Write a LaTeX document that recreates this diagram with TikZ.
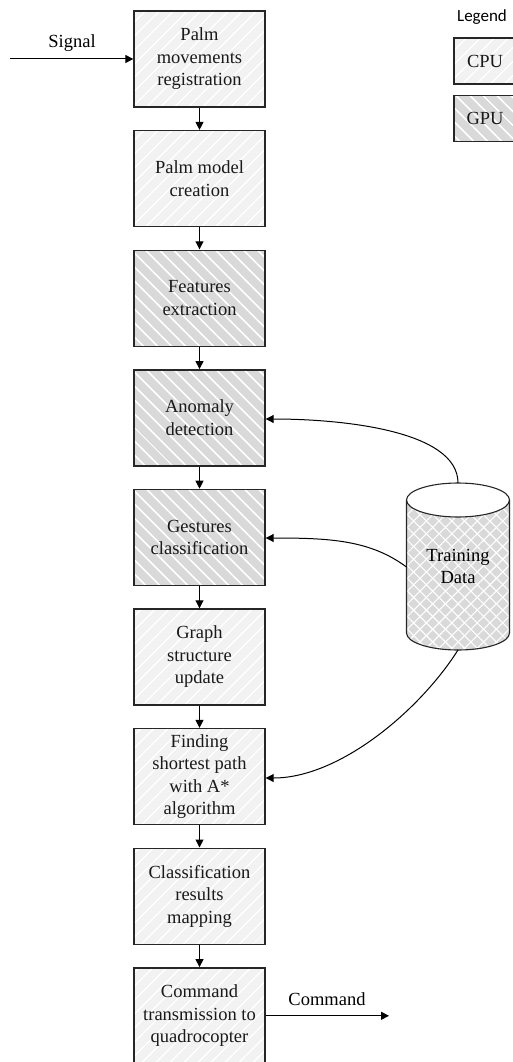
\documentclass[tikz,border=0pt]{standalone}
\usepackage{fontspec}
\setmainfont{Liberation Serif}
\newfontfamily\legendfont{Carlito}
\usetikzlibrary{arrows.meta,patterns.meta}
\definecolor{cpufill}{HTML}{F2F2F2}
\definecolor{gpufill}{HTML}{D9D9D9}
\definecolor{bordercol}{HTML}{262626}
\begin{document}
\begin{tikzpicture}[x=1pt,y=-1pt,
  box/.style={draw=bordercol, line width=1.4pt, minimum width=131pt, minimum height=96pt,
    inner sep=0pt, align=center, font=\fontsize{18.5}{22.5}\selectfont, text=black!90},
  cpubox/.style={box, preaction={fill=cpufill},
    pattern={Lines[angle=45,distance=10.5pt,line width=1.3pt]}, pattern color=white},
  gpubox/.style={box, preaction={fill=gpufill},
    pattern={Lines[angle=-45,distance=10.5pt,line width=1.8pt]}, pattern color=white},
  flow/.style={-{Triangle[length=8pt,width=8pt]}, line width=1pt, black},
  lbl/.style={font=\fontsize{18.5}{22.5}\selectfont, inner sep=0pt}
]
\useasboundingbox (0,0) rectangle (513,1062);
\clip (0,0) rectangle (513,1062);

% main flow boxes
\node[cpubox] (b1) at (199.5,59)    {Palm\\movements\\registration};
\node[cpubox] (b2) at (199.5,178.6) {Palm model\\creation};
\node[gpubox] (b3) at (199.5,298.2) {Features\\extraction};
\node[gpubox] (b4) at (199.5,417.8) {Anomaly\\detection};
\node[gpubox] (b5) at (199.5,537.4) {Gestures\\classification};
\node[cpubox] (b6) at (199.5,657)   {Graph\\structure\\update};
\node[cpubox] (b7) at (199.5,776.6) {Finding\\shortest path\\with A*\\algorithm};
\node[cpubox] (b8) at (199.5,896.2) {Classification\\results\\mapping};
\node[cpubox] (b9) at (199.5,1015.8) {Command\\transmission to\\quadrocopter};

\foreach \a/\b in {b1/b2,b2/b3,b3/b4,b4/b5,b5/b6,b6/b7,b7/b8,b8/b9}
  \draw[flow] (\a.south) -- (\b.north);

% input / output
\coordinate (sigin) at (10,59);
\draw[flow] (sigin) -- (b1.west);
\node[lbl] (siglbl) at (72,43) {Signal};
\coordinate (cmdout) at (389,1015.8);
\draw[flow] (b9.east) -- (cmdout);
\node[lbl] (cmdlbl) at (327,999) {Command};

% database cylinder
\path[preaction={fill=gpufill},
      pattern={Lines[angle=45,distance=9pt,line width=1.1pt]}, pattern color=white,
      postaction={pattern={Lines[angle=-45,distance=9pt,line width=1.1pt]}, pattern color=white}]
  (406.5,500) -- (406.5,633) arc[start angle=180,end angle=360,x radius=51.5pt,y radius=17pt]
  -- (509.5,500) arc[start angle=0,end angle=-180,x radius=51.5pt,y radius=17pt] -- cycle;
\draw[line width=1.1pt, bordercol]
  (406.5,500) -- (406.5,633) arc[start angle=180,end angle=360,x radius=51.5pt,y radius=17pt]
  -- (509.5,500);
\draw[line width=1.1pt, bordercol] (458,500) ellipse [x radius=51.5pt, y radius=17pt];
\node[lbl] (db) at (458,568) {\begin{tabular}{@{}c@{}}Training\\[-1pt]Data\end{tabular}};
\coordinate (dbtop) at (458,483);
\coordinate (dbleft) at (406.5,567);
\coordinate (dbbot) at (458,650);

\draw[flow] (dbtop) .. controls (458,430) and (340,419) .. (b4.east |- 0,419);
\draw[flow] (dbleft) .. controls (370,540) and (330,538) .. (b5.east |- 0,538);
\draw[flow] (dbbot) .. controls (420,710) and (340,778) .. (b7.east |- 0,778);

% legend
\node[font=\legendfont\fontsize{17}{20}\selectfont, inner sep=0pt] (legend) at (482,17) {Legend};
\node[cpubox, minimum width=62pt, minimum height=46pt] (lcpu) at (485,61) {CPU};
\node[gpubox, minimum width=62pt, minimum height=46pt] (lgpu) at (485,118.5) {GPU};
\end{tikzpicture}
\end{document}
